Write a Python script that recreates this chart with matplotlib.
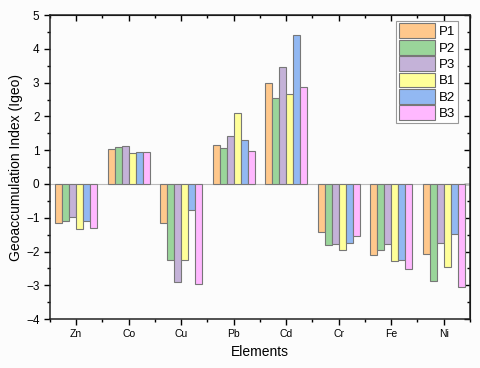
import matplotlib
matplotlib.use("Agg")
import matplotlib.pyplot as plt
import numpy as np
from matplotlib.ticker import MultipleLocator

plt.rcParams['font.family'] = ['Liberation Sans', 'DejaVu Sans']

elements = ["Zn", "Co", "Cu", "Pb", "Cd", "Cr", "Fe", "Ni"]
series_names = ["P1", "P2", "P3", "B1", "B2", "B3"]
P1 = [-1.15, 1.04, -1.15, 1.15, 3.00, -1.43, -2.11, -2.06]
P2 = [-1.10, 1.09, -2.25, 1.06, 2.55, -1.80, -1.95, -2.86]
P3 = [-0.98, 1.13, -2.90, 1.43, 3.45, -1.78, -1.78, -1.75]
B1 = [-1.33, 0.92, -2.25, 2.10, 2.65, -1.96, -2.28, -2.47]
B2 = [-1.10, 0.95, -0.78, 1.30, 4.40, -1.74, -2.25, -1.48]
B3 = [-1.29, 0.96, -2.97, 0.97, 2.87, -1.55, -2.51, -3.06]
series = [P1, P2, P3, B1, B2, B3]
colors = ["#FFC88C", "#9AD59A", "#C4B2D8", "#FFFF99", "#92B8F2", "#FFB8FF"]

fig = plt.figure(figsize=(4.8, 3.68), dpi=100)
fig.patch.set_facecolor("#FCFCFC")
ax = fig.add_axes([0.104, 0.133, 0.875, 0.826])
ax.set_facecolor("#FCFCFC")

x = np.arange(len(elements))
w = 0.8 / 6
for i, (name, vals, c) in enumerate(zip(series_names, series, colors)):
    ax.bar(x - 0.4 + w * (i + 0.5), vals, width=w, color=c, edgecolor="#777777",
           linewidth=0.8, label=name, zorder=3)

ax.axhline(0, color="#BBBBBB", linewidth=0.8, zorder=2)
ax.set_xlim(-0.5, 7.5)
ax.set_ylim(-4, 5)
ax.set_xticks(x)
ax.set_xticklabels(elements, fontsize=7.5)
ax.xaxis.set_minor_locator(MultipleLocator(0.5))
ax.yaxis.set_major_locator(MultipleLocator(1))
ax.yaxis.set_minor_locator(MultipleLocator(0.5))
ax.tick_params(axis='y', labelsize=8.5, direction='out', length=4, width=1)
ax.tick_params(axis='x', direction='out', length=4, width=1)
ax.tick_params(which='minor', direction='out', length=2.5, width=1)
for s in ax.spines.values():
    s.set_linewidth(1.1)
    s.set_color("#222222")

top = ax.secondary_xaxis('top')
top.set_xticks(x)
top.set_xticklabels([])
top.xaxis.set_minor_locator(MultipleLocator(0.5))
top.tick_params(direction='in', length=4, width=1)
top.tick_params(which='minor', direction='in', length=2.5, width=1)
right = ax.secondary_yaxis('right')
right.yaxis.set_major_locator(MultipleLocator(1))
right.yaxis.set_minor_locator(MultipleLocator(0.5))
right.set_yticklabels([])
right.tick_params(direction='in', length=4, width=1)
right.tick_params(which='minor', direction='in', length=2.5, width=1)

ax.set_xlabel("Elements", fontsize=10)
ax.set_ylabel("Geoaccumulation Index (Igeo)", fontsize=10, labelpad=2)

leg = ax.legend(loc='upper right', bbox_to_anchor=(0.977, 0.99), fontsize=9.5,
                handlelength=2.7, handleheight=1.35, handletextpad=0.3,
                labelspacing=0.12, borderpad=0.2, borderaxespad=0.2,
                fancybox=False, framealpha=1)
leg.get_frame().set_edgecolor("#999999")
leg.get_frame().set_linewidth(0.8)

fig.savefig("out.png", dpi=100, facecolor=fig.get_facecolor())
